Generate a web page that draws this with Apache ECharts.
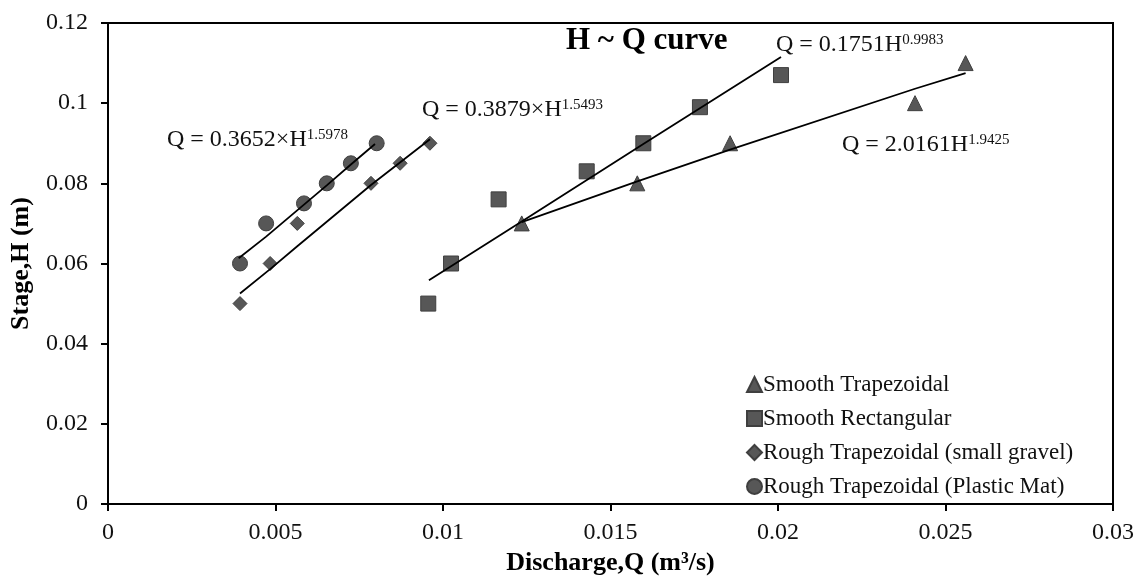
<!DOCTYPE html>
<html>
<head>
<meta charset="utf-8">
<script src="https://cdn.jsdelivr.net/npm/echarts@6/dist/echarts.min.js"></script>
<style>
html,body{margin:0;padding:0;background:#fff;}
#chart{width:1139px;height:581px;}
</style>
</head>
<body>
<div id="chart"></div>
<script>
// ---- data ----
const seriesNames = [
  'Smooth Trapezoidal',
  'Smooth Rectangular',
  'Rough Trapezoidal (small gravel)',
  'Rough Trapezoidal (Plastic Mat)'
];
// Smooth Trapezoidal (triangles)
const trapQ = [0.01235, 0.0158, 0.01857, 0.02409, 0.0256];
const trapH = [0.07, 0.08, 0.09, 0.10, 0.11];
// Smooth Rectangular (squares)
const rectQ = [0.00956, 0.01024, 0.01166, 0.01429, 0.01598, 0.01767, 0.02009];
const rectH = [0.05, 0.06, 0.076, 0.083, 0.09, 0.099, 0.107];
// Rough Trapezoidal small gravel (diamonds)
const gravQ = [0.00394, 0.00484, 0.00565, 0.00785, 0.00872, 0.00961];
const gravH = [0.05, 0.06, 0.07, 0.08, 0.085, 0.09];
// Rough Trapezoidal plastic mat (circles)
const matQ = [0.00394, 0.00472, 0.00585, 0.00653, 0.00725, 0.00802];
const matH = [0.06, 0.07, 0.075, 0.08, 0.085, 0.09];

// trend lines
const trapFitQ = [0.01235, 0.0158, 0.01857, 0.02409, 0.0256];
const trapFitH = [0.0703, 0.0805, 0.0884, 0.1036, 0.1075];
const rectFitQ = [0.00958, 0.01235, 0.01598, 0.02009];
const rectFitH = [0.0558, 0.0705, 0.0898, 0.1115];
const gravFitQ = [0.00394, 0.00484, 0.00565, 0.00785, 0.00961];
const gravFitH = [0.0525, 0.0586, 0.0643, 0.0796, 0.091];
const matFitQ = [0.0039, 0.00472, 0.00585, 0.00653, 0.00725, 0.00797];
const matFitH = [0.0613, 0.0667, 0.0747, 0.0795, 0.0847, 0.0898];

const equations = [
  {main: 'Q = 0.3652×H', sup: '1.5978'},
  {main: 'Q = 0.3879×H', sup: '1.5493'},
  {main: 'Q = 0.1751H', sup: '0.9983'},
  {main: 'Q = 2.0161H', sup: '1.9425'}
];

const xTicks = {min: 0, max: 0.03, interval: 0.005};
const yTicks = {min: 0, max: 0.12, interval: 0.02};

// ---- build ----
const FONT = 'Liberation Serif, Times New Roman, serif';
const pair = (a, b) => a.map((v, i) => [v, b[i]]);
const MARK = '#575757';
const MARK_BORDER = '#3f3f3f';

function scatter(name, q, h, symbol, size) {
  return {
    name: name, type: 'scatter', data: pair(q, h), symbol: symbol, symbolSize: size,
    itemStyle: {color: MARK, borderColor: MARK_BORDER, borderWidth: 1, opacity: 1},
    z: 2
  };
}
function fit(q, h) {
  return {
    type: 'line', data: pair(q, h), showSymbol: false, symbol: 'none', smooth: false,
    lineStyle: {color: '#000', width: 1.8}, silent: true, z: 3
  };
}

const chart = echarts.init(document.getElementById('chart'), null, {renderer: 'canvas'});
const fmt = v => String(+v.toFixed(4));

const eqPos = [[167, 128], [422, 98], [776, 33], [842, 133]];

chart.setOption({
  animation: false,
  backgroundColor: '#fff',
  title: {
    text: 'H ~ Q curve', left: 566, top: 25, padding: 0,
    textStyle: {fontFamily: FONT, fontSize: 31, fontWeight: 'bold', color: '#000'}
  },
  grid: {left: 108, right: 26, top: 23, bottom: 77, show: true, borderColor: '#000', borderWidth: 2, backgroundColor: 'transparent'},
  xAxis: {
    type: 'value', min: xTicks.min, max: xTicks.max, interval: xTicks.interval,
    name: 'Discharge,Q (m³/s)', nameLocation: 'middle', nameGap: 43,
    nameTextStyle: {fontFamily: FONT, fontSize: 26, fontWeight: 'bold', color: '#000'},
    axisLine: {show: true, lineStyle: {color: '#000', width: 2}},
    axisTick: {show: true, inside: false, length: 7, lineStyle: {color: '#000', width: 2}},
    axisLabel: {fontFamily: FONT, fontSize: 24, color: '#111', margin: 17, formatter: fmt},
    splitLine: {show: false}
  },
  yAxis: {
    type: 'value', min: yTicks.min, max: yTicks.max, interval: yTicks.interval,
    name: 'Stage,H (m)', nameLocation: 'middle', nameGap: 74,
    nameTextStyle: {fontFamily: FONT, fontSize: 26, fontWeight: 'bold', color: '#000'},
    axisLine: {show: true, lineStyle: {color: '#000', width: 2}},
    axisTick: {show: true, inside: false, length: 7, lineStyle: {color: '#000', width: 2}},
    axisLabel: {fontFamily: FONT, fontSize: 24, color: '#111', margin: 20, formatter: fmt},
    splitLine: {show: false}
  },
  legend: {
    data: seriesNames, orient: 'vertical', left: 746, top: 373, padding: 0,
    itemWidth: 15, itemHeight: 15, itemGap: 11,
    textStyle: {fontFamily: FONT, fontSize: 23, color: '#111', padding: [0, 0, 0, -4]}
  },
  graphic: equations.map((e, i) => ({
    type: 'text', x: eqPos[i][0], y: eqPos[i][1], z: 10,
    style: {
      text: '{a|' + e.main + '}{b|' + e.sup + '}',
      verticalAlign: 'top', align: 'left',
      rich: {
        a: {fontFamily: FONT, fontSize: 24, fill: '#111', color: '#111'},
        b: {fontFamily: FONT, fontSize: 15, fill: '#111', color: '#111', verticalAlign: 'top'}
      }
    }
  })),
  series: [
    scatter(seriesNames[0], trapQ, trapH, 'triangle', 15),
    scatter(seriesNames[1], rectQ, rectH, 'rect', 15),
    scatter(seriesNames[2], gravQ, gravH, 'diamond', 14),
    scatter(seriesNames[3], matQ, matH, 'circle', 15),
    fit(trapFitQ, trapFitH),
    fit(rectFitQ, rectFitH),
    fit(gravFitQ, gravFitH),
    fit(matFitQ, matFitH)
  ]
});
</script>
</body>
</html>
